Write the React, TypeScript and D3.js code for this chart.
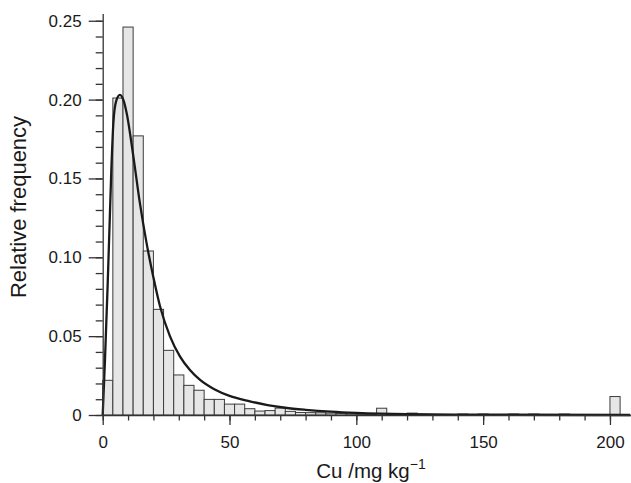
import React, { useEffect, useRef } from "react";
import * as d3 from "d3";

// histogram of Cu, bins 4 mg/kg wide starting at 0
const binWidth = 4;
const binStarts = d3.range(0, 204, 4);
const binFreqs = [
  0.022, 0.201, 0.246, 0.177, 0.104, 0.067, 0.041, 0.0254, 0.0188, 0.0157,
  0.0099, 0.0099, 0.0069, 0.0069, 0.004, 0.0025, 0.0028, 0.0044, 0.0023, 0.0016,
  0.0015, 0.0014, 0.0012, 0.001, 0.0008, 0.0007, 0.0006, 0.0043, 0.0005, 0.0004,
  0.0012, 0.0004, 0.0003, 0, 0.0003, 0.0006, 0.0003, 0.0006, 0.0003, 0.0003,
  0.0006, 0.0003, 0.0006, 0, 0, 0.0006, 0, 0, 0, 0,
  0.0117,
];

// fitted density
const fitX = [0, 0.9, 1.9, 2.7, 3.4, 4.2, 5.3, 6.8, 8.3, 9.5, 12, 14.7, 17.3, 19.9, 22.6, 26.5, 30.5, 34.4, 38.4, 44, 50, 58, 65, 72, 80, 90, 100, 120, 150, 208];
const fitY = [0, 0.035, 0.08, 0.12, 0.155, 0.185, 0.199, 0.203, 0.199, 0.191, 0.165, 0.134, 0.109, 0.088, 0.069, 0.05, 0.037, 0.0285, 0.0222, 0.0163, 0.0121, 0.0087, 0.0063, 0.0046, 0.0033, 0.0021, 0.0013, 0.0005, 0.0002, 0];

const xMajor = [0, 50, 100, 150, 200];
const xMinor = d3.range(0, 210, 10);
const yMajor = [0, 0.05, 0.1, 0.15, 0.2, 0.25];
const yMinor = d3.range(0, 0.255, 0.01);

const font = "'Liberation Sans', Arial, Helvetica, sans-serif";

export default function App() {
  const svgRef = useRef<SVGSVGElement | null>(null);

  useEffect(() => {
    const width = 631;
    const height = 483;

    const x = d3.scaleLinear().domain([0, 208.3]).range([102.7, 631]);
    const y = d3.scaleLinear().domain([0, 0.2546]).range([415, 13.5]);

    const svg = d3.select(svgRef.current);
    svg.selectAll("*").remove(); // clear on redraw
    svg.attr("width", width).attr("height", height);

    // bars
    svg
      .append("g")
      .selectAll("rect")
      .data(binStarts.map((b, i) => ({ b, v: binFreqs[i] })).filter((d) => d.v > 0))
      .join("rect")
      .attr("x", (d) => x(d.b))
      .attr("width", (d) => x(d.b + binWidth) - x(d.b))
      .attr("y", (d) => y(d.v))
      .attr("height", (d) => y(0) - y(d.v))
      .attr("fill", "#e6e6e6")
      .attr("stroke", "#3c3c3c")
      .attr("stroke-width", 1);

    // fitted curve
    const line = d3
      .line<number>()
      .x((_, i) => x(fitX[i]))
      .y((d) => y(d))
      .curve(d3.curveMonotoneX);

    svg
      .append("path")
      .attr("d", line(fitY) || "")
      .attr("fill", "none")
      .attr("stroke", "#1a1a1a")
      .attr("stroke-width", 2.3);

    // x axis
    const gx = svg.append("g").attr("transform", `translate(0,${y(0)})`);
    gx.append("g")
      .call(d3.axisBottom(x).tickValues(xMinor).tickSize(5.5).tickSizeOuter(0).tickFormat(() => ""))
      .call((g) => g.select(".domain").remove());
    gx.append("g").call(
      d3.axisBottom(x).tickValues(xMajor).tickSize(10).tickSizeOuter(0).tickPadding(10.5).tickFormat(d3.format("d"))
    );

    // y axis
    const gy = svg.append("g").attr("transform", `translate(${x(0)},0)`);
    gy.append("g")
      .call(d3.axisLeft(y).tickValues(yMinor).tickSize(7).tickSizeOuter(0).tickFormat(() => ""))
      .call((g) => g.select(".domain").remove());
    gy.append("g").call(
      d3
        .axisLeft(y)
        .tickValues(yMajor)
        .tickSize(14)
        .tickSizeOuter(0)
        .tickPadding(7)
        .tickFormat((d) => (+d === 0 ? "0" : d3.format(".2f")(+d)))
    );

    svg.selectAll(".domain, .tick line").attr("stroke", "#333").attr("stroke-width", 1.3);
    svg.selectAll(".tick text").attr("fill", "#1a1a1a").style("font-family", font).style("font-size", "17px");

    // titles
    const xt = svg
      .append("text")
      .attr("x", 371)
      .attr("y", 478)
      .attr("text-anchor", "middle")
      .attr("fill", "#1a1a1a")
      .style("font-family", font)
      .style("font-size", "20.5px");
    xt.append("tspan").text("Cu /mg kg");
    xt.append("tspan").attr("dy", -9).style("font-size", "14px").text("\u22121");

    svg
      .append("text")
      .attr("transform", `translate(18,207) rotate(-90)`)
      .attr("text-anchor", "middle")
      .attr("dominant-baseline", "central")
      .attr("fill", "#1a1a1a")
      .style("font-family", font)
      .style("font-size", "22px")
      .text("Relative frequency");
  }, []);

  return (
    <div style={{ position: "absolute", left: 0, top: 0 }}>
      <svg ref={svgRef} style={{ display: "block" }} />
    </div>
  );
}
